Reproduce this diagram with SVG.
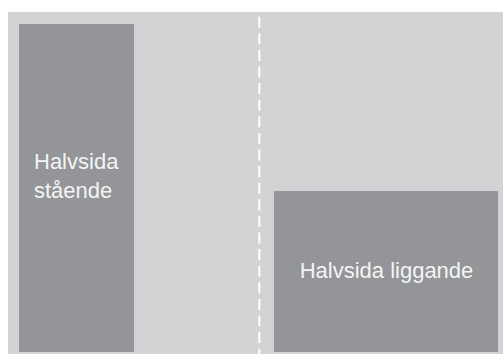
<svg xmlns="http://www.w3.org/2000/svg" width="503" height="354" viewBox="0 0 503 354">
  <style>
    .page { fill: #d1d3d4; }
    .block { fill: #939598; }
    .label { font-family: "Liberation Sans", Arial, sans-serif; font-size: 22px; fill: #f4f4f5; }
    .fold { stroke: #ffffff; stroke-width: 2; stroke-dasharray: 11 5.6; fill: none; }
  </style>
  <rect x="0" y="0" width="503" height="354" fill="#ffffff"/>
  <rect class="page" x="8" y="12" width="495" height="342"/>
  <g id="connectors">
    <line class="fold" x1="259.3" y1="16.7" x2="259.3" y2="354"/>
  </g>
  <g id="halvsida-staende">
    <rect class="block" x="19" y="24" width="115" height="328"/>
    <text class="label" x="34" y="169">Halvsida</text>
    <text class="label" x="34" y="198">stående</text>
  </g>
  <g id="halvsida-liggande">
    <rect class="block" x="274" y="191" width="224" height="161"/>
    <text class="label" x="386.5" y="278" text-anchor="middle">Halvsida liggande</text>
  </g>
</svg>
